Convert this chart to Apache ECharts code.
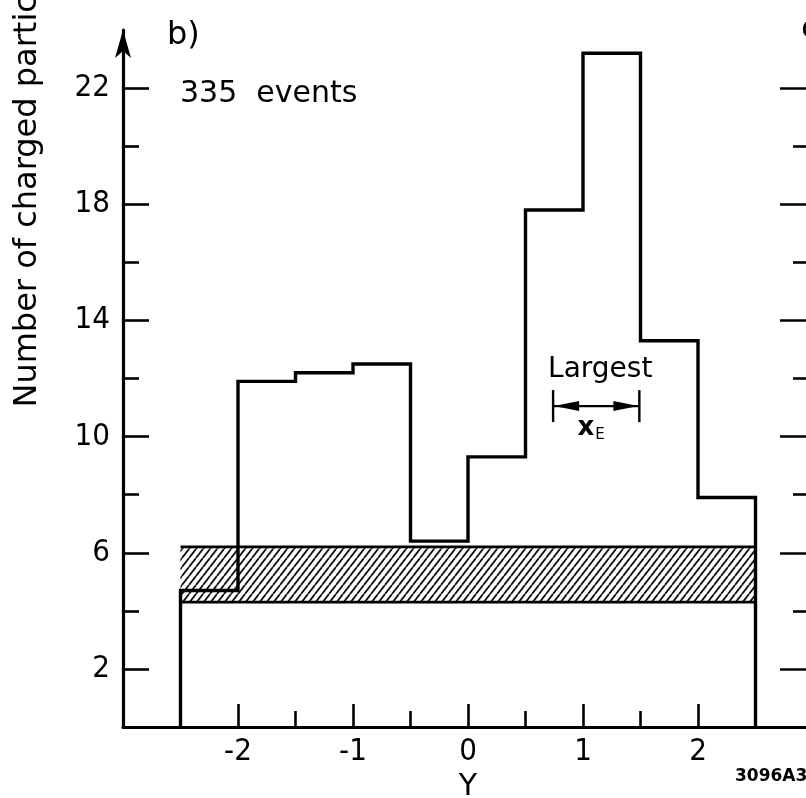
<!DOCTYPE html>
<html>
<head>
<meta charset="utf-8">
<script src="https://cdn.jsdelivr.net/npm/echarts@6/dist/echarts.min.js"></script>
<style>
  html, body { margin: 0; padding: 0; background: #fff; }
  #chart { width: 806px; height: 798px; }
</style>
</head>
<body>
<div id="chart"></div>
<script>
// Rapidity (Y) distribution of charged particles, panel b)
const binEdges = [-2.5, -2, -1.5, -1, -0.5, 0, 0.5, 1, 1.5, 2, 2.5];
const binCounts = [4.7, 11.9, 12.2, 12.5, 6.4, 9.3, 17.8, 23.2, 13.3, 7.9];

// shaded background band
const bandRange = [-2.5, 2.5];
const bandLimits = [4.3, 6.2];

// tick positions and labels
const yMajorTicks = [2, 6, 10, 14, 18, 22];
const yMinorTicks = [4, 8, 12, 16, 20];
const xMajorTicks = [-2, -1, 0, 1, 2];
const xMinorTicks = [-1.5, -0.5, 0.5, 1.5];

// "Largest x_E" bracket
const largestSpan = [0.74, 1.49];
const largestLevel = 11.05;

const panelTag = 'b)';
const eventsText = '335  events';
const yTitle = 'Number of charged particles';
const xTitle = 'Y';
const figureCode = '3096A3';

const textFont = "'DejaVu Sans', 'Liberation Sans', sans-serif";
const numFont = "'DejaVu Sans Condensed', 'DejaVu Sans', sans-serif";

// step outline of the histogram, closed down to zero at both ends
const outline = [[binEdges[0], 0]];
binCounts.forEach((v, i) => {
  outline.push([binEdges[i], v], [binEdges[i + 1], v]);
});
outline.push([binEdges[binEdges.length - 1], 0]);

// diagonal hatching tile
function hatchTile() {
  const w = 7, h = 9;
  const c = document.createElement('canvas');
  c.width = w; c.height = h;
  const g = c.getContext('2d');
  g.strokeStyle = '#111';
  g.lineWidth = 1.8;
  g.beginPath();
  g.moveTo(0, h); g.lineTo(w, 0);
  g.moveTo(-w, h); g.lineTo(0, 0);
  g.moveTo(w, h); g.lineTo(2 * w, 0);
  g.stroke();
  return c;
}
const hatch = hatchTile();

const black = '#000';
const chart = echarts.init(document.getElementById('chart'), null, { renderer: 'canvas' });

function tickAxisX(values, len, labels) {
  return {
    type: 'value', min: -3, max: 3, position: 'bottom', gridIndex: 0,
    axisLine: { show: labels, onZero: false, lineStyle: { color: black, width: 3.2 } },
    axisTick: { show: true, inside: true, length: len, customValues: values,
                lineStyle: { color: black, width: 2.6 } },
    axisLabel: { show: labels, customValues: values, color: black, margin: 9,
                 fontSize: 31, fontFamily: numFont },
    splitLine: { show: false },
    name: labels ? xTitle : '', nameLocation: 'middle', nameGap: 42,
    nameTextStyle: { color: black, fontSize: 30, fontFamily: textFont }
  };
}

function tickAxisY(values, len, side, withLine, labels) {
  return {
    type: 'value', min: 0, max: 24, position: side, gridIndex: 0,
    axisLine: { show: withLine, onZero: false, symbol: ['none', 'arrow'], symbolSize: [12, 28],
                lineStyle: { color: black, width: 3.2 } },
    axisTick: { show: true, inside: true, length: len, customValues: values,
                lineStyle: { color: black, width: 2.6 } },
    axisLabel: { show: labels, customValues: values, color: black, margin: 13,
                 fontSize: 31, fontFamily: numFont },
    splitLine: { show: false }
  };
}

chart.setOption({
  animation: false,
  backgroundColor: '#fff',
  grid: { left: 123, right: -7, top: 30, bottom: 71, containLabel: false, outerBoundsMode: 'none' },
  xAxis: [
    tickAxisX(xMajorTicks, 23, true),
    tickAxisX(xMinorTicks, 16, false)
  ],
  yAxis: [
    tickAxisY(yMajorTicks, 26, 'left', true, true),
    tickAxisY(yMinorTicks, 16, 'left', false, false),
    tickAxisY(yMajorTicks, 33, 'right', false, false),
    tickAxisY(yMinorTicks, 20, 'right', false, false)
  ],
  series: [
    {
      type: 'custom',
      xAxisIndex: 0, yAxisIndex: 0,
      z: 2,
      data: [[bandRange[0], bandRange[1], bandLimits[0], bandLimits[1]]],
      renderItem(params, api) {
        const p0 = api.coord([api.value(0), api.value(3)]);
        const p1 = api.coord([api.value(1), api.value(2)]);
        return {
          type: 'group',
          children: [
            { type: 'rect', shape: { x: p0[0], y: p0[1], width: p1[0] - p0[0], height: p1[1] - p0[1] },
              style: { fill: { image: hatch, repeat: 'repeat' } } },
            { type: 'line', shape: { x1: p0[0], y1: p0[1], x2: p1[0], y2: p0[1] },
              style: { stroke: black, lineWidth: 2.8 } },
            { type: 'line', shape: { x1: p0[0], y1: p1[1], x2: p1[0], y2: p1[1] },
              style: { stroke: black, lineWidth: 2.8 } }
          ]
        };
      }
    },
    {
      type: 'line',
      xAxisIndex: 0, yAxisIndex: 0,
      z: 5,
      data: outline,
      showSymbol: false,
      symbol: 'none',
      lineStyle: { color: black, width: 3.4, join: 'miter' }
    }
  ]
});

// annotations placed through the chart's own coordinate system
const px = (x, y) => chart.convertToPixel({ xAxisIndex: 0, yAxisIndex: 0 }, [x, y]);

const spanL = px(largestSpan[0], largestLevel);
const spanR = px(largestSpan[1], largestLevel);
const barH = 16;
const headLen = 26, headW = 5;
const midX = (spanL[0] + spanR[0]) / 2;
const yTitleStart = px(-3, 11)[1];

chart.setOption({
  graphic: [
    { type: 'text', left: 167, top: 20,
      style: { text: panelTag, fill: black, font: '32px ' + textFont } },
    { type: 'text', left: 180, top: 79,
      style: { text: eventsText, fill: black, font: '30px ' + textFont } },
    { type: 'text', x: 28, y: yTitleStart, rotation: Math.PI / 2,
      style: { text: yTitle, fill: black, font: '32px ' + textFont,
               textAlign: 'left', textVerticalAlign: 'middle' } },
    { type: 'text', x: 735, y: 777,
      style: { text: figureCode, fill: black, font: 'bold 17px ' + textFont,
               textAlign: 'left', textVerticalAlign: 'middle' } },
    { type: 'text', x: 801, y: 30,
      style: { text: 'c)', fill: black, font: '32px ' + textFont,
               textAlign: 'left', textVerticalAlign: 'middle' } },
    { type: 'text', x: midX + 4, y: spanL[1] - 36,
      style: { text: 'Largest', fill: black, font: '28px ' + textFont,
               textAlign: 'center', textVerticalAlign: 'middle' } },
    { type: 'text', x: midX - 5, y: spanL[1] + 22,
      style: { text: '{x|x}{s|E}', fill: black, textAlign: 'center', textVerticalAlign: 'middle',
               rich: {
                 x: { font: 'bold 26px ' + textFont, fill: black },
                 s: { font: '15px ' + textFont, fill: black, padding: [14, 0, 0, 1] }
               } } },
    { type: 'line', shape: { x1: spanL[0], y1: spanL[1] - barH, x2: spanL[0], y2: spanL[1] + barH },
      style: { stroke: black, lineWidth: 2.4 } },
    { type: 'line', shape: { x1: spanR[0], y1: spanR[1] - barH, x2: spanR[0], y2: spanR[1] + barH },
      style: { stroke: black, lineWidth: 2.4 } },
    { type: 'line', shape: { x1: spanL[0], y1: spanL[1], x2: spanR[0], y2: spanR[1] },
      style: { stroke: black, lineWidth: 2.2 } },
    { type: 'polygon', shape: { points: [[spanL[0] + 1, spanL[1]], [spanL[0] + headLen, spanL[1] - headW], [spanL[0] + headLen, spanL[1] + headW]] },
      style: { fill: black } },
    { type: 'polygon', shape: { points: [[spanR[0] - 1, spanR[1]], [spanR[0] - headLen, spanR[1] - headW], [spanR[0] - headLen, spanR[1] + headW]] },
      style: { fill: black } }
  ]
});
</script>
</body>
</html>
